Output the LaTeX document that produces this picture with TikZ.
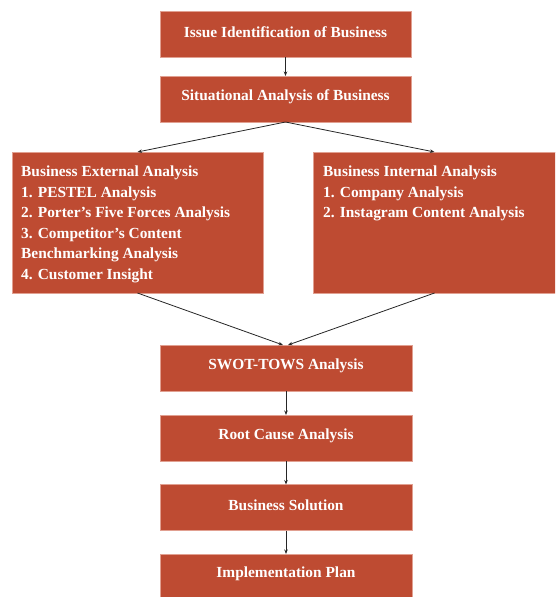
\documentclass[tikz,border=0pt]{standalone}
\usepackage{fontspec}
\setmainfont{Liberation Serif}
\usetikzlibrary{arrows.meta}
\definecolor{boxred}{RGB}{190,75,50}
\definecolor{boxedge}{RGB}{225,160,145}
\begin{document}
\begin{tikzpicture}[x=1pt,y=-1pt,
  box/.style={draw=boxedge, line width=0.6pt, fill=boxred, inner sep=0pt, outer sep=0pt},
  lbl/.style={text=white, font=\fontsize{15.4}{20.5}\selectfont\bfseries, inner sep=0pt},
  arr/.style={draw=black!85, line width=0.8pt, -{Stealth[length=4.5pt,width=3.5pt]}}]
\useasboundingbox (0,0) rectangle (555,597);
\clip (0,0) rectangle (555,597);
% top boxes
\node[box, minimum width=251pt, minimum height=46pt] (issue) at (285.5,34) {};
\node[lbl] (issuet) at ([yshift=2pt]issue.center) {Issue Identification of Business};
\node[box, minimum width=251pt, minimum height=46pt] (sit) at (285.5,99) {};
\node[lbl] (sitt) at ([yshift=2pt]sit.center) {Situational Analysis of Business};
% middle boxes
\node[box, minimum width=251pt, minimum height=141pt] (ext) at (137.5,222.5) {};
\node[lbl, anchor=north west, align=left] (extt) at ([xshift=9pt,yshift=-14pt]ext.north west)
  {Business External Analysis\\1. PESTEL Analysis\\2. Porter’s Five Forces Analysis\\3. Competitor’s Content\\Benchmarking Analysis\\4. Customer Insight};
\node[box, minimum width=243pt, minimum height=141pt] (int) at (434.5,222.5) {};
\node[lbl, anchor=north west, align=left] (intt) at ([xshift=10pt,yshift=-14pt]int.north west)
  {Business Internal Analysis\\1. Company Analysis\\2. Instagram Content Analysis};
% lower boxes
\node[box, minimum width=252pt, minimum height=46pt] (swot) at (286,368) {};
\node[lbl] (swott) at ([yshift=2pt]swot.center) {SWOT-TOWS Analysis};
\node[box, minimum width=252pt, minimum height=46pt] (root) at (286,438) {};
\node[lbl] (roott) at ([yshift=2pt]root.center) {Root Cause Analysis};
\node[box, minimum width=252pt, minimum height=46pt] (sol) at (286,507.5) {};
\node[lbl] (solt) at ([yshift=2pt]sol.center) {Business Solution};
\node[box, minimum width=252pt, minimum height=46pt] (impl) at (286,577) {};
\node[lbl] (implt) at ([yshift=3pt]impl.center) {Implementation Plan};
% connectors
\draw[arr] (issue.south) -- (sit.north);
\draw[arr] (sit.south) -- (ext.north);
\draw[arr] (sit.south) -- (int.north);
\draw[arr] (ext.south) -- ([xshift=-3pt]swot.north);
\draw[arr] (int.south) -- ([xshift=2pt]swot.north);
\draw[arr] (swot.south) -- (root.north);
\draw[arr] (root.south) -- (sol.north);
\draw[arr] (sol.south) -- (impl.north);
\end{tikzpicture}
\end{document}
